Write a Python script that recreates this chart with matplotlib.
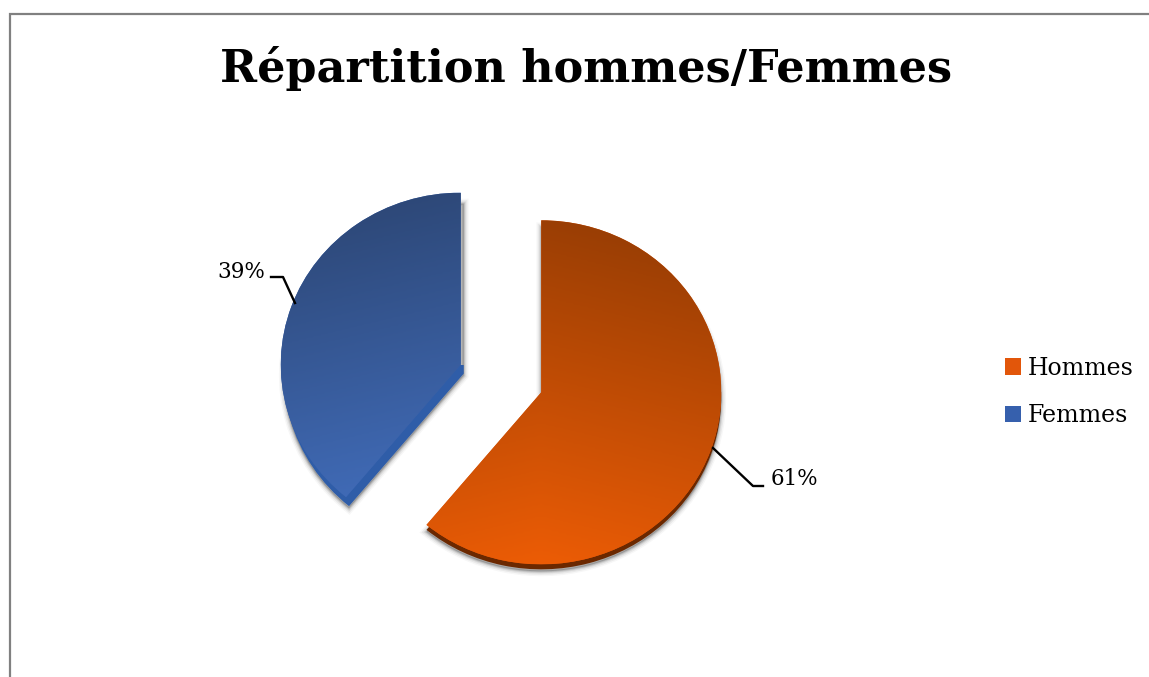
import numpy as np
import matplotlib
matplotlib.use("Agg")
from matplotlib import pyplot as plt
from matplotlib.colors import LinearSegmentedColormap
from matplotlib.patches import Rectangle, Wedge

plt.rcParams["font.family"] = "DejaVu Serif"

title = "Répartition hommes/Femmes"
labels = ["Hommes", "Femmes"]
values = [61, 39]
pct_labels = ["61%", "39%"]
explode = [0.2376, 0.2376]

# top and bottom colour of each slice, then side wall and legend swatch
gradients = [("#973d04", "#ec5c06"), ("#2d4776", "#4472c4")]
side_colors = ["#6b2800", "#2f5da8"]
swatches = ["#e2560a", "#3660ad"]

W, H = 1149, 677
fig = plt.figure(figsize=(W / 100, H / 100), dpi=100)

# overlay in pixels for frame, title, leader lines
over = fig.add_axes([0, 0, 1, 1], zorder=3)
over.set_xlim(0, W)
over.set_ylim(H, 0)
over.axis("off")

# pie axes, 180 x 172 px per unit
ax = fig.add_axes([231 / W, 40.5 / H, 540 / W, 516 / H], zorder=1)
wedges, _ = ax.pie(values, explode=explode, startangle=90, counterclock=False,
                   colors=swatches, radius=1)
ax.set_aspect("auto")
ax.set_xlim(-1.5, 1.5)
ax.set_ylim(-1.5, 1.5)

px, py = 1 / 180, 1 / 172
side_shift = [(0, -5), (3, -9)]

for i, w in enumerate(wedges):
    cx, cy = w.center
    sx, sy = side_shift[i]
    # soft shadow, filled so no white gap shows next to the slice
    for lw, alpha in [(7, 0.04), (5, 0.07), (3, 0.10), (1.5, 0.16)]:
        ax.add_patch(Wedge((cx + sx * px, cy + (sy - 2) * py), w.r, w.theta1, w.theta2,
                           facecolor=(0.35, 0.35, 0.35, alpha), edgecolor=(0.2, 0.2, 0.2, alpha),
                           linewidth=lw, zorder=2))
    # side wall, only below the tip of the slice
    side = Wedge((cx + sx * px, cy + sy * py), w.r, w.theta1, w.theta2,
                 facecolor=side_colors[i], edgecolor="none", zorder=3)
    ax.add_patch(side)
    side.set_clip_path(Rectangle((-1.5, -1.5), 3, cy + 1.5, transform=ax.transData))
    # surface gradient, slightly tilted
    ramp = LinearSegmentedColormap.from_list("ramp", gradients[i])
    xx, yy = np.meshgrid(np.linspace(0, 1, 200), np.linspace(0, 1, 200))
    shade = np.clip(yy * 0.95 - 0.12 * np.abs(xx - 0.5) * 2 + 0.05, 0, 1)
    im = ax.imshow(shade, cmap=ramp, vmin=0, vmax=1, aspect="auto", zorder=4,
                   extent=[cx - 1, cx + 1, cy - 1, cy + 1], origin="upper")
    w.set_zorder(3.5)
    w.set_edgecolor("none")
    im.set_clip_path(w)
ax.set_xlim(-1.5, 1.5)
ax.set_ylim(-1.5, 1.5)

# frame only on top and left, the crop cuts the rest
over.plot([10, 10, W + 5], [H + 5, 14, 14], color="#808080", lw=1.6, solid_joinstyle="miter")

over.text(586, 82, title, ha="center", va="baseline", fontsize=32, fontweight="bold", color="black")

# leader lines
over.plot([271, 283, 295], [277, 277, 303], color="black", lw=1.7)
over.plot([713, 753, 763], [448, 486, 486], color="black", lw=1.7)
over.text(241, 272, pct_labels[1], ha="center", va="center", fontsize=15.5)
over.text(794, 479, pct_labels[0], ha="center", va="center", fontsize=15.5)

fs = 17
fs_px = fs * 100 / 72
leg = fig.legend(wedges, labels, loc="upper left", bbox_to_anchor=(1000 / W, 1 - 352 / H),
                 frameon=False, fontsize=fs, handlelength=16 / fs_px,
                 handleheight=16 / fs_px, handletextpad=0.3, labelspacing=1.03,
                 borderaxespad=0, borderpad=0.2)
leg.set_zorder(5)

fig.savefig("out.png", dpi=100)
